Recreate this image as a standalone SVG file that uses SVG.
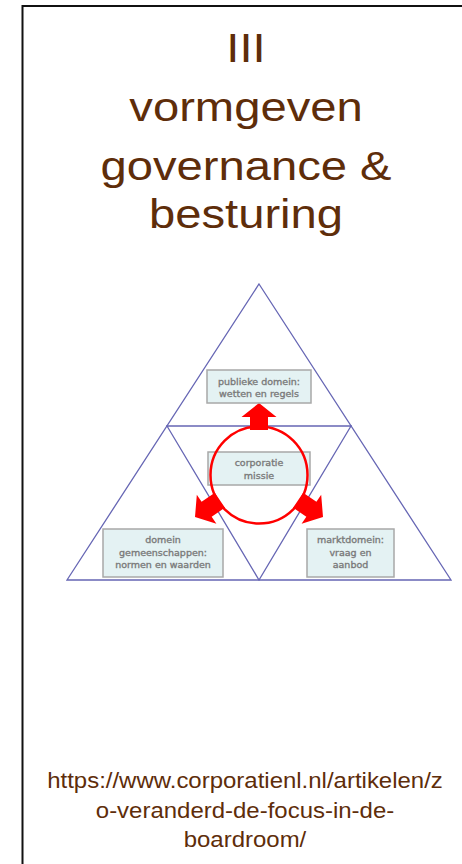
<svg xmlns="http://www.w3.org/2000/svg" width="462" height="864" viewBox="0 0 462 864">
<style>
.title{font-family:"Liberation Sans",Arial,sans-serif;font-size:40px;fill:#5e2d0a;text-anchor:middle}
.url{font-family:"Liberation Sans",Arial,sans-serif;font-size:22px;fill:#5e2d0a;text-anchor:middle}
.tri{fill:none;stroke:#6666b4;stroke-width:1.3}
.box{fill:#e4f2f3;stroke:#a8a8a8;stroke-width:1.5}
.lbl{font-family:"DejaVu Sans","Open Sans",sans-serif;font-size:9.5px;fill:#7a7a7a;stroke:#7a7a7a;stroke-width:0.35;text-anchor:middle}
.arrow{fill:#ff0000;stroke:none}
</style>
<rect width="462" height="864" fill="#ffffff"/>
<g id="frame">
<path d="M22.5,864 V6 H462" fill="none" stroke="#111" stroke-width="2"/>
</g>
<g id="title" transform="translate(246,0) scale(1.18,1)">
<text class="title" x="0" y="62">III</text>
<text class="title" x="0" y="121">vormgeven</text>
<text class="title" x="0" y="180">governance &amp;</text>
<text class="title" x="0" y="228">besturing</text>
</g>
<g id="triangle">
<path class="tri" d="M259,284 L451,580 L67,580 Z"/>
<path class="tri" d="M167,426 H351 L259,580 Z"/>
</g>
<g id="connectors">
<path class="arrow" d="M259,403 L276.5,417 L268,417 L268,430 L250,430 L250,417 L241.5,417 Z"/>
<path class="arrow" d="M195,517 L216.42,523.69 L211.66,516.63 L224.94,507.67 L214.86,492.73 L201.58,501.69 L196.82,494.64 Z"/>
<path class="arrow" d="M323,517 L301.58,523.69 L306.34,516.63 L293.06,507.67 L303.14,492.73 L316.42,501.69 L321.18,494.64 Z"/>
</g>
<g id="node-publiek">
<rect class="box" x="207" y="370" width="104" height="33"/>
<text class="lbl" x="259" y="384.5">publieke domein:</text>
<text class="lbl" x="259" y="397">wetten en regels</text>
</g>
<g id="node-missie">
<rect class="box" x="208" y="452" width="102" height="33"/>
<circle cx="259" cy="475" r="48.5" fill="none" stroke="#ff0000" stroke-width="2.5"/>
<text class="lbl" x="259" y="466">corporatie</text>
<text class="lbl" x="259" y="479">missie</text>
</g>
<g id="node-gemeenschappen">
<rect class="box" x="103" y="529" width="120" height="48"/>
<text class="lbl" x="163" y="543">domein</text>
<text class="lbl" x="163" y="555.5">gemeenschappen:</text>
<text class="lbl" x="163" y="568">normen en waarden</text>
</g>
<g id="node-markt">
<rect class="box" x="307" y="529" width="87" height="48"/>
<text class="lbl" x="350.5" y="543">marktdomein:</text>
<text class="lbl" x="350.5" y="555.5">vraag en</text>
<text class="lbl" x="350.5" y="568">aanbod</text>
</g>
<g id="source" transform="translate(245,0) scale(1.09,1)">
<text class="url" x="0" y="788">https://www.corporatienl.nl/artikelen/z</text>
<text class="url" x="0" y="818">o-veranderd-de-focus-in-de-</text>
<text class="url" x="0" y="847">boardroom/</text>
</g>
</svg>
